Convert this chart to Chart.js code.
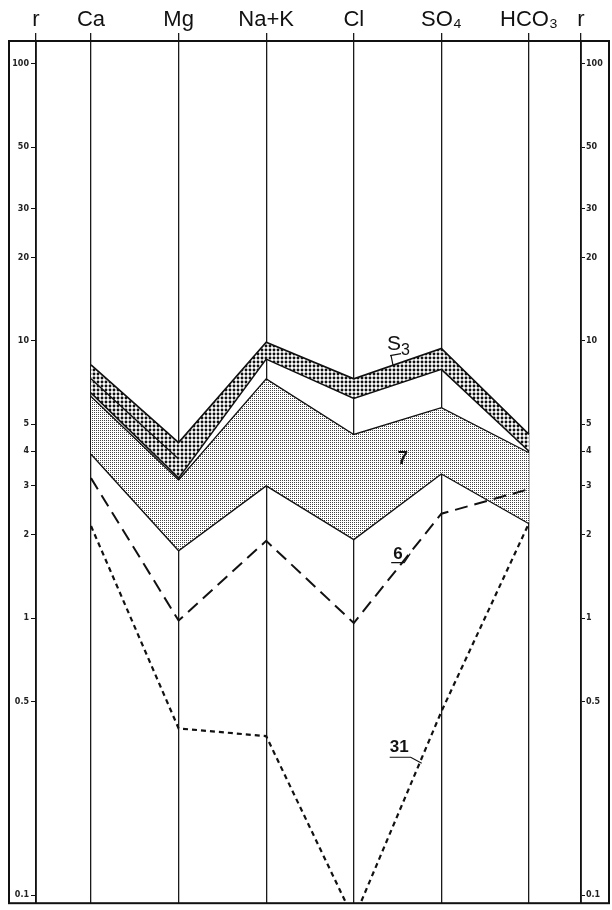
<!DOCTYPE html>
<html>
<head>
<meta charset="utf-8">
<script src="https://cdn.jsdelivr.net/npm/chart.js@4.4.1/dist/chart.umd.min.js"></script>
<style>
    html, body { margin: 0; padding: 0; background: #fff; }
    #wrap { width: 612px; height: 910px; }
</style>
</head>
<body>
<div id="wrap"><canvas id="schoeller" width="612" height="910"></canvas></div>
<script>
// Ions portés sur l'axe horizontal (plus les deux axes r aux extrémités)
const ions = ['Ca', 'Mg', 'Na+K', 'Cl', 'SO₄', 'HCO₃'];
const axisLabels = ['r', 'Ca', 'Mg', 'Na+K', 'Cl', 'SO₄', 'HCO₃', 'r'];

// Graduations de l'axe r (échelle logarithmique)
const rTicks = [0.1, 0.5, 1, 2, 3, 4, 5, 10, 20, 30, 50, 100];
const rTickLabels = ['0.1', '0.5', '1', '2', '3', '4', '5', '10', '20', '30', '50', '100'];

// Echantillon S3 : bande (bord haut, bord bas, trait intermédiaire Ca-Mg)
const s3Haut = [8.2, 4.3, 9.9, 7.3, 9.4, 4.6];
const s3Bas = [6.5, 3.2, 8.6, 6.2, 7.9, 4.0];
const s3Milieu = [7.3, 3.75, null, null, null, null];

// Echantillon 7 : zone pointillée
const e7Haut = [6.3, 3.15, 7.3, 4.6, 5.75, 3.95];
const e7Bas = [3.9, 1.75, 3.0, 1.92, 3.31, 2.19];

// Echantillon 6 (tirets longs)
const e6 = [3.2, 0.98, 1.9, 0.96, 2.38, 2.92];

// Echantillon 31 (tirets courts)
const e31 = [2.15, 0.40, 0.375, 0.082, 0.46, 2.2];

// Bornes des axes
const rMin = 0.0936;
const rMax = 120.9;
const xMin = -0.628;
const xMax = 5.594;
const axisPos = [xMin, 0, 1, 2, 3, 4, 5, xMax];

// Motifs de remplissage
function makePattern(size, drawFn) {
    const c = document.createElement('canvas');
    c.width = size;
    c.height = size;
    const g = c.getContext('2d');
    g.fillStyle = '#fff';
    g.fillRect(0, 0, size, size);
    drawFn(g);
    return c.getContext('2d').createPattern(c, 'repeat');
}
const motifS3 = makePattern(4, g => {
    g.fillStyle = '#111';
    g.beginPath();
    g.arc(2, 2, 1.45, 0, Math.PI * 2);
    g.fill();
});
const motif7 = makePattern(2, g => {
    g.fillStyle = '#444';
    g.fillRect(0, 0, 1, 1);
});

const toPoints = arr => arr.map((v, i) => ({ x: i, y: v }));

function serie(data, extra) {
    return Object.assign({
        data: toPoints(data),
        borderColor: '#111',
        borderWidth: 1.3,
        pointRadius: 0,
        tension: 0,
        fill: false,
        clip: 0
    }, extra);
}

// Cadre extérieur
const cadre = {
    id: 'cadre',
    afterDraw(chart) {
        const { ctx, chartArea, scales } = chart;
        ctx.save();
        ctx.strokeStyle = '#111';
        ctx.lineWidth = 2;
        ctx.strokeRect(scales.y.left + 1, chartArea.top, scales.y2.right - scales.y.left - 2, chartArea.bottom - chartArea.top);
        ctx.restore();
    }
};

// Etiquettes des échantillons (S3, 7, 6, 31)
const etiquettes = {
    id: 'etiquettes',
    afterDatasetsDraw(chart) {
        const { ctx, scales: { x, y } } = chart;
        const px = v => x.getPixelForValue(v);
        const py = v => y.getPixelForValue(v);
        ctx.save();
        ctx.fillStyle = '#111';
        ctx.strokeStyle = '#111';
        ctx.lineWidth = 1.2;
        ctx.textBaseline = 'alphabetic';

        // S3
        let ax = px(3.38), ay = py(9.3);
        ctx.font = '21px "Liberation Sans"';
        ctx.fillText('S', ax, ay);
        ctx.font = '16px "Liberation Sans"';
        ctx.fillText('3', ax + 14, ay + 5);
        ctx.beginPath();
        ctx.moveTo(ax + 3, ay + 6);
        ctx.lineTo(ax + 14, ay + 4);
        ctx.moveTo(ax + 4, ay + 6);
        ctx.lineTo(ax + 6, ay + 16);
        ctx.stroke();

        // 7
        ctx.font = 'bold 19px "Liberation Sans"';
        ctx.fillText('7', px(3.5), py(3.59));

        // 6
        ax = px(3.45); ay = py(1.64);
        ctx.font = 'bold 17px "Liberation Sans"';
        ctx.fillText('6', ax, ay);
        ctx.beginPath();
        ctx.moveTo(ax - 2, ay + 4);
        ctx.lineTo(ax + 11, ay + 4);
        ctx.lineTo(ax + 17, ay - 5);
        ctx.stroke();

        // 31
        ax = px(3.41); ay = py(0.328);
        ctx.font = 'bold 17px "Liberation Sans"';
        ctx.fillText('31', ax, ay);
        ctx.beginPath();
        ctx.moveTo(ax, ay + 5);
        ctx.lineTo(ax + 21, ay + 5);
        ctx.lineTo(ax + 32, ay + 11);
        ctx.stroke();
        ctx.restore();
    }
};

const yTicks = {
    autoSkip: false,
    color: '#222',
    font: { family: 'DejaVu Sans', size: 8, weight: 'bold' },
    callback: (v, i) => rTickLabels[i]
};

const ctx = document.getElementById('schoeller').getContext('2d');
new Chart(ctx, {
    type: 'line',
    data: {
        datasets: [
            serie(s3Haut, { label: 'S3', fill: '+1', backgroundColor: motifS3, borderWidth: 1.6 }),
            serie(s3Bas, { label: 'S3 bas', borderWidth: 1.6 }),
            serie(s3Milieu, { label: 'S3 milieu', borderWidth: 1.3 }),
            serie(e7Haut, { label: '7', fill: '+1', backgroundColor: motif7 }),
            serie(e7Bas, { label: '7 bas' }),
            serie(e6, { label: '6', borderWidth: 2, borderDash: [13, 7] }),
            serie(e31, { label: '31', borderWidth: 2.2, borderDash: [5, 4] })
        ]
    },
    options: {
        responsive: false,
        animation: false,
        layout: { padding: { left: 8, right: 2, top: 0, bottom: 1 } },
        plugins: {
            legend: { display: false },
            tooltip: { enabled: false },
            filler: { drawTime: 'beforeDatasetsDraw' }
        },
        scales: {
            x: {
                type: 'linear',
                position: 'top',
                min: xMin,
                max: xMax,
                afterBuildTicks: s => { s.ticks = axisPos.map(v => ({ value: v })); },
                afterFit: s => { s.height = 41; },
                ticks: {
                    autoSkip: false,
                    maxRotation: 0,
                    padding: 0,
                    color: '#111',
                    font: { family: 'Liberation Sans', size: 22 },
                    callback: (v, i) => axisLabels[i]
                },
                grid: { color: '#1a1a1a', lineWidth: 1.3, tickLength: 8 },
                border: { display: true, color: '#111', width: 2 }
            },
            y: {
                type: 'logarithmic',
                position: 'left',
                min: rMin,
                max: rMax,
                afterBuildTicks: s => { s.ticks = rTicks.map(v => ({ value: v })); },
                afterFit: s => { s.width = 28; },
                ticks: Object.assign({ padding: 2 }, yTicks),
                grid: { drawOnChartArea: false, tickLength: 5, color: '#111', lineWidth: 1 },
                border: { display: true, color: '#111', width: 1.8 }
            },
            y2: {
                type: 'logarithmic',
                position: 'right',
                min: rMin,
                max: rMax,
                afterBuildTicks: s => { s.ticks = rTicks.map(v => ({ value: v })); },
                afterFit: s => { s.width = 29; },
                ticks: Object.assign({ padding: 1 }, yTicks),
                grid: { drawOnChartArea: false, tickLength: 4, color: '#111', lineWidth: 1 },
                border: { display: true, color: '#111', width: 1.8 }
            }
        }
    },
    plugins: [cadre, etiquettes]
});
</script>
</body>
</html>
